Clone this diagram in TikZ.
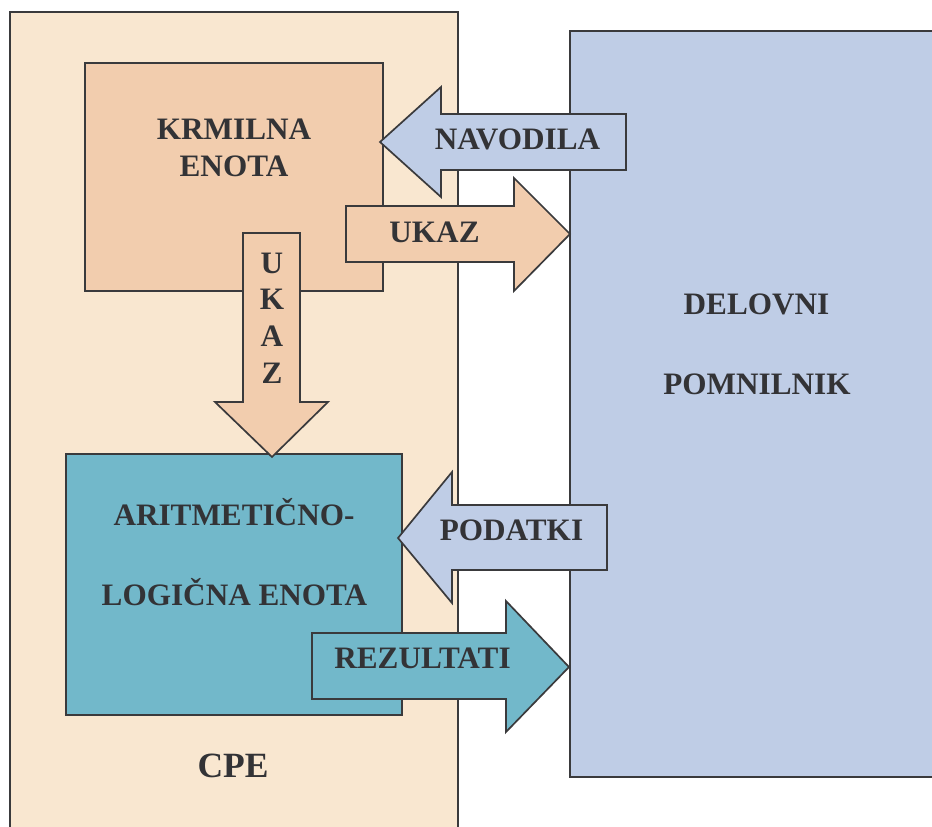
\documentclass[tikz,border=0pt]{standalone}
\usepackage{fontspec}
\setmainfont{Liberation Serif}
\definecolor{cpefill}{HTML}{F9E7D0}
\definecolor{krmfill}{HTML}{F2CDAE}
\definecolor{memfill}{HTML}{BFCDE6}
\definecolor{alefill}{HTML}{72B8CA}
\definecolor{rob}{HTML}{3A3A3C}
\definecolor{txt}{HTML}{333336}
\tikzset{
	box/.style={draw=rob, line width=1.7pt, line join=miter},
	lbl/.style={inner sep=0pt, anchor=base, text=txt}
}
\begin{document}
\begin{tikzpicture}[x=1pt, y=-1pt, font=\fontsize{31.2}{36}\selectfont\bfseries]
	\useasboundingbox (0,0) rectangle (932,827);
	\clip (0,0) rectangle (932,827); % slika je odrezana desno in spodaj
	% bloki
	\draw[box, fill=cpefill] (10,12) rectangle (458,850);
	\draw[box, fill=memfill] (570,31) rectangle (950,777);
	\draw[box, fill=krmfill] (85,63) rectangle (383,291);
	\draw[box, fill=alefill] (66,454) rectangle (402,715);
	% puscice
	\draw[box, fill=memfill] (380,142) -- (441,87) -- (441,114) -- (626,114) -- (626,170) -- (441,170) -- (441,197) -- cycle;
	\draw[box, fill=krmfill] (570,234) -- (514,178) -- (514,206) -- (346,206) -- (346,262) -- (514,262) -- (514,291) -- cycle;
	\draw[box, fill=krmfill] (272,457) -- (215,402) -- (243,402) -- (243,233) -- (300,233) -- (300,402) -- (328,402) -- cycle;
	\draw[box, fill=memfill] (398,538) -- (452,472) -- (452,505) -- (607,505) -- (607,570) -- (452,570) -- (452,603) -- cycle;
	\draw[box, fill=alefill] (569,667) -- (506,601) -- (506,633) -- (312,633) -- (312,699) -- (506,699) -- (506,732) -- cycle;
	% napisi
	\node[lbl] (krm1) at (234,139) {KRMILNA};
	\node[lbl] (krm2) at (234,176) {ENOTA};
	\node[lbl] (ale1) at (234,525) {ARITMETIČNO-};
	\node[lbl] (ale2) at (234.5,605) {LOGIČNA ENOTA};
	\node[lbl, font=\fontsize{35.5}{40}\selectfont\bfseries] (cpe) at (233,777) {CPE};
	\node[lbl] (mem1) at (756.5,314) {DELOVNI};
	\node[lbl] (mem2) at (757,394) {POMNILNIK};
	\node[lbl] (navodila) at (517.5,149) {NAVODILA};
	\node[lbl] (ukaz) at (434.5,242) {UKAZ};
	\node[lbl] (podatki) at (511.5,540) {PODATKI};
	\node[lbl] (rezultati) at (422.5,668) {REZULTATI};
	\foreach \c [count=\i] in {U,K,A,Z}
		\node[lbl] (ukazv\i) at (272,236.5+36.7*\i) {\c};
\end{tikzpicture}
\end{document}
